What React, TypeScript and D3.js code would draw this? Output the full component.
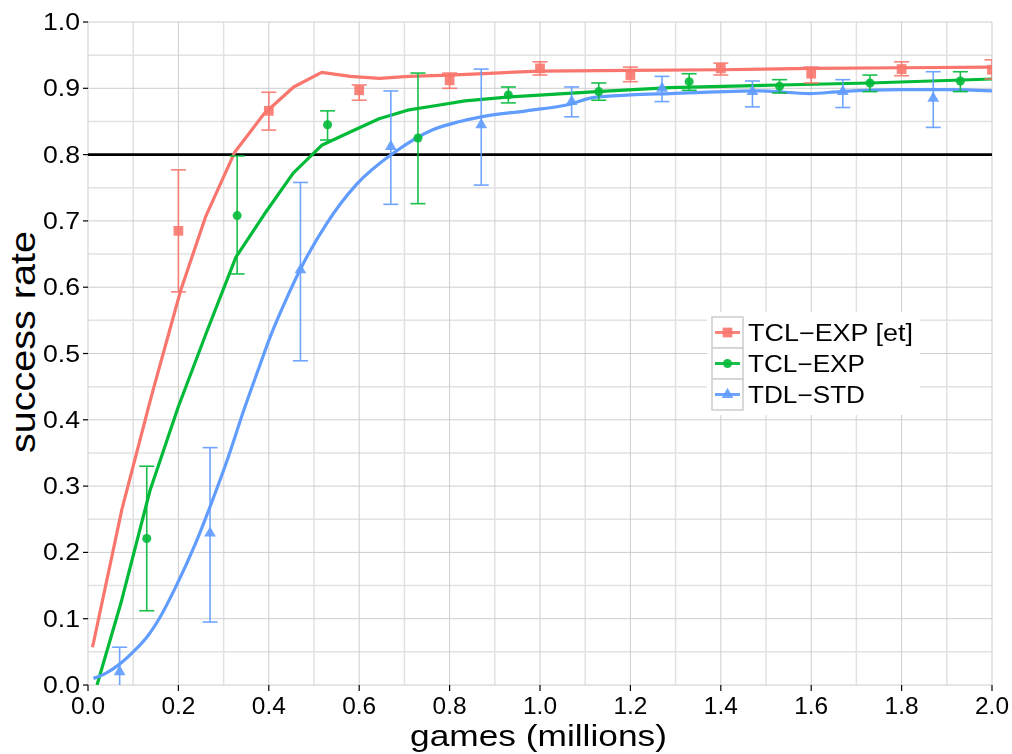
import React from "react";
import * as d3 from "d3";

// ---- data ----
const seriesNames = ["TCL−EXP [et]", "TCL−EXP", "TDL−STD"];
const seriesColors = ["#F8766D", "#00BA38", "#619CFF"];

const redLineX = [0.01, 0.075, 0.14, 0.205, 0.26, 0.325, 0.39, 0.455, 0.517, 0.58, 0.645, 0.71, 0.8, 0.9, 1.0, 1.2, 1.4, 1.6, 1.8, 2.0];
const redLineY = [0.057, 0.265, 0.435, 0.595, 0.706, 0.804, 0.862, 0.902, 0.924, 0.918, 0.915, 0.918, 0.92, 0.923, 0.926, 0.927, 0.928, 0.93, 0.931, 0.932];

const greenLineX = [0.02, 0.073, 0.137, 0.2, 0.264, 0.327, 0.39, 0.454, 0.517, 0.58, 0.644, 0.707, 0.771, 0.834, 0.934, 1.126, 1.288, 1.53, 1.73, 2.0];
const greenLineY = [0.0, 0.124, 0.293, 0.42, 0.535, 0.645, 0.71, 0.772, 0.814, 0.834, 0.854, 0.867, 0.874, 0.881, 0.887, 0.895, 0.901, 0.905, 0.908, 0.914];

const blueLineX = [0.012, 0.04, 0.067, 0.1, 0.13, 0.16, 0.192, 0.237, 0.274, 0.31, 0.345, 0.38, 0.403, 0.436, 0.469, 0.528, 0.594, 0.675, 0.764, 0.823, 0.87, 0.97, 1.066, 1.117, 1.2, 1.288, 1.487, 1.597, 1.664, 1.796, 1.9, 2.0];
const blueLineY = [0.01, 0.018, 0.03, 0.05, 0.072, 0.103, 0.145, 0.212, 0.276, 0.343, 0.415, 0.482, 0.525, 0.578, 0.626, 0.696, 0.755, 0.802, 0.838, 0.85, 0.857, 0.866, 0.876, 0.886, 0.89, 0.892, 0.896, 0.892, 0.895, 0.898, 0.898, 0.896];

const redPtX = [0.2, 0.4, 0.6, 0.8, 1.0, 1.2, 1.4, 1.6, 1.8, 2.0];
const redPtY = [0.685, 0.866, 0.897, 0.912, 0.93, 0.92, 0.93, 0.922, 0.929, 0.928];
const redPtLo = [0.593, 0.837, 0.882, 0.9, 0.92, 0.91, 0.92, 0.908, 0.919, 0.914];
const redPtHi = [0.777, 0.894, 0.905, 0.923, 0.94, 0.932, 0.938, 0.932, 0.94, 0.943];

const greenPtX = [0.13, 0.33, 0.53, 0.73, 0.93, 1.13, 1.33, 1.53, 1.73, 1.93];
const greenPtY = [0.221, 0.708, 0.845, 0.825, 0.89, 0.895, 0.91, 0.903, 0.908, 0.911];
const greenPtLo = [0.112, 0.62, 0.822, 0.726, 0.878, 0.882, 0.897, 0.893, 0.895, 0.895];
const greenPtHi = [0.33, 0.798, 0.866, 0.923, 0.902, 0.908, 0.922, 0.913, 0.92, 0.925];

const bluePtX = [0.07, 0.27, 0.47, 0.67, 0.87, 1.07, 1.27, 1.47, 1.67, 1.87];
const bluePtY = [0.02, 0.229, 0.626, 0.812, 0.845, 0.88, 0.9, 0.895, 0.895, 0.885];
const bluePtLo = [-0.02, 0.095, 0.489, 0.725, 0.754, 0.857, 0.88, 0.872, 0.871, 0.841];
const bluePtHi = [0.057, 0.358, 0.758, 0.896, 0.929, 0.902, 0.918, 0.911, 0.913, 0.925];

const xTicks = [0, 0.2, 0.4, 0.6, 0.8, 1.0, 1.2, 1.4, 1.6, 1.8, 2.0];
const yTicks = [0, 0.1, 0.2, 0.3, 0.4, 0.5, 0.6, 0.7, 0.8, 0.9, 1.0];
const thresholdY = 0.8;

// ---- layout ----
const W = 1012, H = 754;
const L = 88, R = 992, T = 22, B = 685;
const FONT = "Liberation Sans, Arial, Helvetica, sans-serif";

const x = d3.scaleLinear().domain([0, 2]).range([L, R]);
const y = d3.scaleLinear().domain([0, 1]).range([B, T]);

const lines = [
  { xs: redLineX, ys: redLineY, curve: d3.curveLinear },
  { xs: greenLineX, ys: greenLineY, curve: d3.curveLinear },
  { xs: blueLineX, ys: blueLineY, curve: d3.curveMonotoneX },
];
const pts = [
  { xs: redPtX, ys: redPtY, lo: redPtLo, hi: redPtHi, shape: d3.symbolSquare, size: 95 },
  { xs: greenPtX, ys: greenPtY, lo: greenPtLo, hi: greenPtHi, shape: d3.symbolCircle, size: 64 },
  { xs: bluePtX, ys: bluePtY, lo: bluePtLo, hi: bluePtHi, shape: d3.symbolTriangle, size: 60 },
];

export default function App() {
  const minorX = d3.range(0.1, 2.0, 0.2);
  const minorY = d3.range(0.05, 1.0, 0.1);
  const cap = 7.5;
  return (
    <svg width={W} height={H} style={{ position: "absolute", left: 0, top: 0, background: "#fff" }} fontFamily={FONT}>
      <defs>
        <clipPath id="panel">
          <rect x={L} y={T} width={R - L} height={B - T} />
        </clipPath>
      </defs>
      <rect x={0} y={0} width={W} height={H} fill="#fff" />
      {/* grid */}
      <g>
        {minorY.map((v, i) => (
          <line key={"my" + i} x1={L} x2={R} y1={y(v)} y2={y(v)} stroke="#e2e2e2" strokeWidth={1.5} />
        ))}
        {minorX.map((v, i) => (
          <line key={"mx" + i} x1={x(v)} x2={x(v)} y1={T} y2={B} stroke="#e2e2e2" strokeWidth={1.5} />
        ))}
        {yTicks.map((v, i) => (
          <line key={"gy" + i} x1={L} x2={R} y1={y(v)} y2={y(v)} stroke="#cdcdcd" strokeWidth={1} />
        ))}
        {xTicks.map((v, i) => (
          <line key={"gx" + i} x1={x(v)} x2={x(v)} y1={T} y2={B} stroke="#cdcdcd" strokeWidth={1} />
        ))}
      </g>
      {/* threshold */}
      <line x1={L} x2={R} y1={y(thresholdY)} y2={y(thresholdY)} stroke="#000" strokeWidth={2.6} />
      <g clipPath="url(#panel)">
        {lines.map((s, i) => {
          const gen = d3
            .line<[number, number]>()
            .x((d) => x(d[0]))
            .y((d) => y(d[1]))
            .curve(s.curve);
          return (
            <path
              key={"l" + i}
              d={gen(s.xs.map((v, j) => [v, s.ys[j]] as [number, number])) || ""}
              fill="none"
              stroke={seriesColors[i]}
              strokeWidth={3.2}
              strokeLinejoin="round"
            />
          );
        })}
        {pts.map((s, i) => (
          <g key={"p" + i} stroke={seriesColors[i]} strokeWidth={1.6} opacity={0.9}>
            {s.xs.map((v, j) => (
              <g key={j}>
                <line x1={x(v)} x2={x(v)} y1={y(s.lo[j])} y2={y(s.hi[j])} />
                <line x1={x(v) - cap} x2={x(v) + cap} y1={y(s.lo[j])} y2={y(s.lo[j])} />
                <line x1={x(v) - cap} x2={x(v) + cap} y1={y(s.hi[j])} y2={y(s.hi[j])} />
              </g>
            ))}
          </g>
        ))}
        {pts.map((s, i) => (
          <g key={"m" + i} fill={seriesColors[i]} opacity={0.9}>
            {s.xs.map((v, j) => (
              <path key={j} transform={`translate(${x(v)},${y(s.ys[j])})`} d={d3.symbol().type(s.shape).size(s.size)() || ""} />
            ))}
          </g>
        ))}
      </g>
      {/* axes ticks */}
      {yTicks.map((v, i) => (
        <g key={"yt" + i}>
          <line x1={L - 5} x2={L} y1={y(v)} y2={y(v)} stroke="#000" strokeWidth={1.2} />
          <text x={L - 8} y={y(v)} dy="0.35em" textAnchor="end" fontSize={23} textLength={37} lengthAdjust="spacingAndGlyphs" fill="#000">
            {v.toFixed(1)}
          </text>
        </g>
      ))}
      {xTicks.map((v, i) => (
        <g key={"xt" + i}>
          <line x1={x(v)} x2={x(v)} y1={B} y2={B + 6} stroke="#000" strokeWidth={1.2} />
          <text x={x(v)} y={714} textAnchor="middle" fontSize={23} textLength={34} lengthAdjust="spacingAndGlyphs" fill="#000">
            {v.toFixed(1)}
          </text>
        </g>
      ))}
      {/* axis titles */}
      <text x={538.5} y={746} textAnchor="middle" fontSize={30} textLength={257} lengthAdjust="spacingAndGlyphs" fill="#000">
        games (millions)
      </text>
      <text transform={`translate(35,342) rotate(-90)`} textAnchor="middle" fontSize={35} textLength={222} lengthAdjust="spacingAndGlyphs" fill="#000">
        success rate
      </text>
      {/* legend */}
      <g>
        <rect x={707} y={312} width={213} height={103} fill="#fff" />
        {seriesNames.map((name, i) => {
          const top = 317 + i * 31;
          const cy = top + 15.5;
          const tl = [165, 117, 117][i];
          return (
            <g key={"lg" + i}>
              <rect x={712} y={top} width={31} height={31} fill="#fff" stroke="#d0d0d0" strokeWidth={1.6} />
              <line x1={715} x2={740} y1={cy} y2={cy} stroke={seriesColors[i]} strokeWidth={3} opacity={0.9} />
              <path
                transform={`translate(727.5,${cy})`}
                d={d3.symbol().type(pts[i].shape).size(pts[i].size)() || ""}
                fill={seriesColors[i]}
                opacity={0.9}
              />
              <text x={748} y={cy} dy="0.36em" fontSize={23} textLength={tl} lengthAdjust="spacingAndGlyphs" fill="#000">
                {name}
              </text>
            </g>
          );
        })}
      </g>
    </svg>
  );
}
